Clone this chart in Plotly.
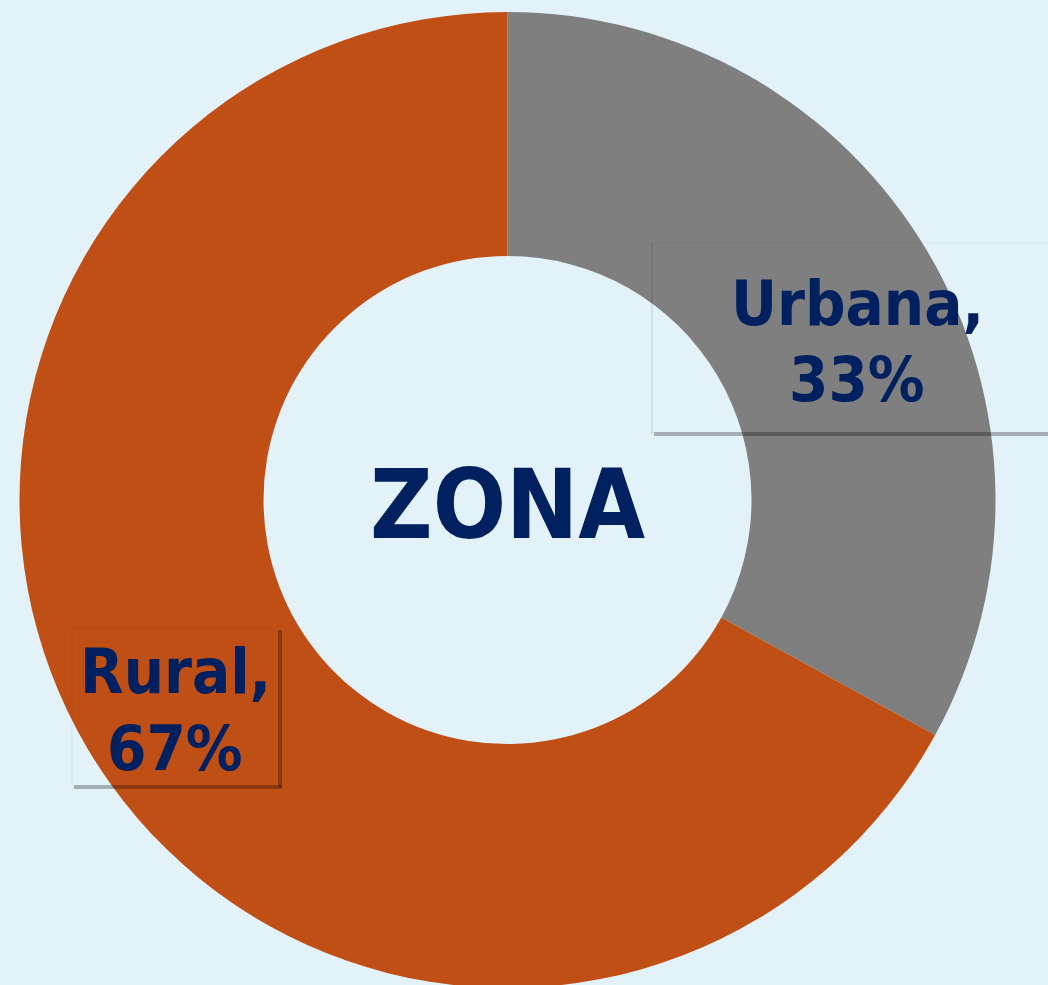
import plotly.graph_objects as go

labels = ["Urbana", "Rural"]
values = [33, 67]
pct_text = ["33%", "67%"]
colors = ["#7F7F7F", "#C04F15"]
center_title = "ZONA"

W, H = 1048, 988
BG = "#E3F1F8"
NAVY = "#002060"
FONT = "DejaVu Sans Condensed, DejaVu Sans, Verdana, sans-serif"


def px(x):
    return x / W


def py(y):
    return 1 - y / H


fig = go.Figure(
    go.Pie(
        labels=labels,
        values=values,
        hole=0.5,
        sort=False,
        direction="clockwise",
        rotation=0,
        marker=dict(colors=colors, line=dict(width=0)),
        textinfo="none",
        hoverinfo="label+percent",
        domain=dict(x=[px(19.5), px(995.5)], y=[0, py(12)]),
        showlegend=False,
    )
)

shapes = []


def shadow_line(x0, y0, x1, y1, w, a):
    shapes.append(dict(type="line", xref="paper", yref="paper",
                       x0=px(x0), y0=py(y0), x1=px(x1), y1=py(y1),
                       line=dict(color=f"rgba(0,0,0,{a})", width=w)))


# Urbana frame
shadow_line(652, 243, 1048, 243, 1, 0.05)
shadow_line(652, 243, 652, 434, 2, 0.08)
shadow_line(654, 434, 1048, 434, 4, 0.28)
# Rural frame
shadow_line(72, 628, 278, 628, 1, 0.05)
shadow_line(72, 628, 72, 786, 1, 0.05)
shadow_line(280, 630, 280, 787, 4, 0.28)
shadow_line(74, 787, 282, 787, 4, 0.28)

LBL = 63
annotations = [
    dict(text=f"<b>{center_title}</b>", x=px(507), y=py(505), xref="paper", yref="paper",
         showarrow=False, font=dict(size=96, color=NAVY, family=FONT),
         xanchor="center", yanchor="middle"),
    dict(text=f"<b>{labels[0]},</b>", x=px(857), y=py(303), xref="paper", yref="paper",
         showarrow=False, font=dict(size=LBL, color=NAVY, family=FONT),
         xanchor="center", yanchor="middle"),
    dict(text=f"<b>{pct_text[0]}</b>", x=px(857), y=py(380), xref="paper", yref="paper",
         showarrow=False, font=dict(size=LBL, color=NAVY, family=FONT),
         xanchor="center", yanchor="middle"),
    dict(text=f"<b>{labels[1]},</b>", x=px(175), y=py(671), xref="paper", yref="paper",
         showarrow=False, font=dict(size=LBL, color=NAVY, family=FONT),
         xanchor="center", yanchor="middle"),
    dict(text=f"<b>{pct_text[1]}</b>", x=px(175), y=py(748), xref="paper", yref="paper",
         showarrow=False, font=dict(size=LBL, color=NAVY, family=FONT),
         xanchor="center", yanchor="middle"),
]

fig.update_layout(
    width=W, height=H,
    margin=dict(l=0, r=0, t=0, b=0),
    paper_bgcolor=BG,
    plot_bgcolor=BG,
    shapes=shapes,
    annotations=annotations,
)

fig.write_html("out.html", config={"displayModeBar": False})

# remove the browser's default page margin so the figure sits at (0, 0)
with open("out.html", encoding="utf-8") as f:
    html = f.read()
html = html.replace(
    "<head>",
    "<head><style>html,body{margin:0;padding:0;overflow:hidden;background:%s}</style>" % BG,
    1,
)
with open("out.html", "w", encoding="utf-8") as f:
    f.write(html)
